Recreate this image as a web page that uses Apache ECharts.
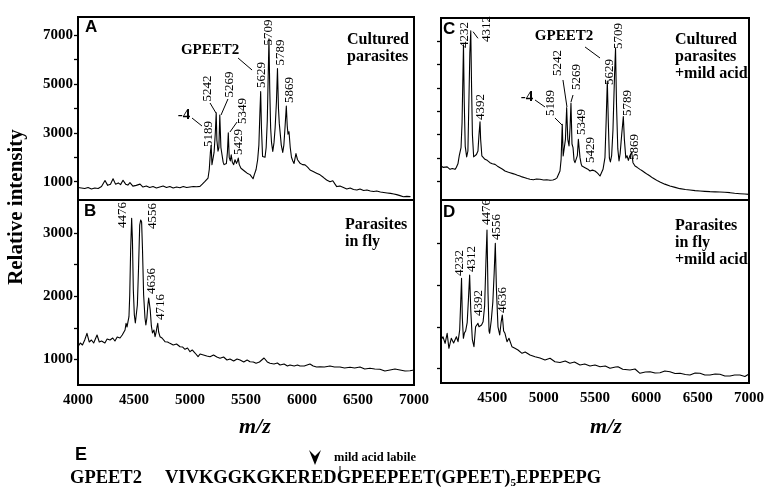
<!DOCTYPE html>
<html><head><meta charset="utf-8">
<script src="https://cdn.jsdelivr.net/npm/echarts@6/dist/echarts.min.js"></script>
<style>html,body{margin:0;padding:0;background:#fff}#c{width:775px;height:493px}</style>
</head><body><div id="c"></div>
<script>
// ---------- Panel A: cultured parasites ----------
const mzA = [4000,4030,4060,4090,4120,4150,4180,4210,4241,4265,4290,4313,4335,4360,4380,4402,4425,4445,4464,4490,4520,4554,4580,4610,4640,4670,4700,4730,4760,4790,4820,4850,4880,4910,4940,4970,5000,5030,5060,5089,5110,5134,5150,5161,5172,5182,5189,5196,5204,5215,5226,5234,5240,5250,5258,5266,5276,5286,5296,5304,5315,5325,5334,5342,5350,5360,5368,5378,5390,5402,5415,5424,5431,5440,5455,5470,5491,5510,5536,5550,5563,5575,5590,5604,5615,5624,5631,5638,5648,5660,5670,5680,5690,5698,5705,5712,5720,5728,5739,5750,5760,5772,5781,5790,5797,5805,5815,5828,5838,5848,5860,5868,5875,5884,5895,5906,5918,5929,5946,5960,5982,6005,6027,6050,6072,6100,6130,6161,6190,6220,6250,6275,6295,6310,6339,6370,6400,6430,6460,6490,6518,6550,6580,6610,6640,6667,6700,6730,6760,6790,6820,6845,6875,6905,6935,6965,7000];
const intA = [760,740,720,760,700,740,720,800,1050,850,900,1120,900,950,880,1060,900,860,960,820,850,900,780,820,760,800,740,780,820,760,800,740,780,750,800,760,780,800,790,810,900,1010,1080,1150,1500,2200,2480,1700,1620,2200,3000,3820,2700,2250,2400,3730,2400,2100,1800,1700,1650,1750,2200,3000,2000,1850,2100,1800,1700,1900,1750,1850,1970,1700,1550,1500,1420,1350,1290,1250,1120,1300,1500,1900,2500,3800,4690,3200,2030,2100,2000,2400,3500,5300,6860,4800,3200,2600,2240,2600,3200,4300,5640,4000,3400,3000,2500,2200,2500,3200,4100,3300,2950,3050,2400,2000,1850,1750,2150,1900,1760,1700,1690,1600,1480,1420,1350,1280,1180,1070,1000,1040,900,800,820,760,700,740,680,660,700,640,660,620,600,620,580,560,540,520,495,470,430,385,400,390];
const labA = ['-4','5189','5242','5269','5349','5429','GPEET2','5629','5709','5789','5869'];
const labAmz = [4946,5170,5156,5357,5473,5438,5179,5643,5705,5813,5893];
const labAint = [3733,2955,4819,4983,3897,2627,6397,5373,7114,6294,4758];
const leadA = [[5018,3610,5107,3283],[5179,4225,5232,3815],[5339,4389,5277,3733],[5420,3446,5357,3037],[5429,6069,5554,5577]];

// ---------- Panel B: parasites in fly ----------
const mzB = [4000,4020,4040,4060,4080,4100,4120,4140,4170,4190,4210,4240,4260,4286,4310,4330,4350,4375,4395,4411,4420,4429,4438,4446,4455,4462,4470,4479,4486,4494,4503,4512,4520,4530,4540,4551,4560,4568,4576,4586,4598,4606,4615,4624,4631,4637,4645,4655,4665,4678,4688,4698,4705,4712,4720,4732,4750,4777,4800,4821,4850,4880,4911,4935,4955,4978,5000,5020,5045,5072,5090,5120,5150,5179,5210,5240,5268,5300,5330,5357,5390,5420,5447,5480,5510,5536,5565,5590,5620,5661,5690,5714,5750,5780,5804,5840,5870,5893,5930,5960,5982,6020,6071,6100,6130,6161,6200,6250,6290,6339,6380,6429,6470,6518,6560,6607,6650,6696,6740,6786,6830,6875,6920,6964,7000];
const intB = [1201,1260,1228,1307,1413,1276,1307,1260,1386,1276,1291,1260,1323,1307,1339,1291,1355,1339,1386,1360,1466,1572,1513,1593,1677,2020,2734,3236,2890,2100,1704,1577,1608,1862,2417,3130,3210,3178,2734,2020,1656,1545,1656,1862,1973,1994,1783,1530,1418,1466,1360,1434,1513,1572,1434,1360,1339,1280,1276,1254,1228,1244,1201,1196,1160,1180,1122,1149,1101,1043,1085,1070,1054,1043,1070,1038,1017,1038,990,1006,974,1006,990,959,990,963,959,938,959,1022,959,938,927,943,911,927,895,911,895,911,895,895,927,895,879,884,879,895,879,879,863,875,863,879,848,859,848,843,816,832,848,832,816,821,832];
const labB = ['4476','4556','4636','4716'];
const labBmz = [4402,4670,4661,4741];
const labBint = [3289,3273,2242,1830];

// ---------- Panel C: cultured parasites + mild acid ----------
const mzC = [4000,4020,4039,4060,4088,4110,4136,4150,4165,4178,4195,4205,4212,4219,4226,4236,4250,4262,4272,4281,4290,4298,4306,4318,4330,4345,4360,4370,4380,4386,4398,4410,4428,4450,4477,4500,4526,4550,4575,4600,4623,4650,4672,4700,4721,4745,4769,4790,4818,4840,4867,4900,4930,4964,5000,5030,5062,5090,5110,5130,5140,5159,5170,5181,5190,5198,5212,5224,5235,5247,5257,5266,5276,5286,5296,5305,5318,5328,5338,5346,5354,5365,5373,5390,5403,5419,5430,5451,5475,5500,5525,5549,5563,5578,5597,5608,5620,5630,5640,5650,5662,5675,5690,5700,5710,5722,5734,5745,5760,5776,5786,5800,5812,5825,5840,5857,5870,5890,5910,5938,5960,5987,6010,6036,6060,6084,6110,6133,6180,6230,6280,6328,6380,6425,6475,6523,6570,6620,6670,6717,6765,6815,6860,6912,6960,7000];
const intC = [1656,1600,1586,1620,1514,1550,1514,1600,1750,2100,2443,3500,5200,6850,4500,2500,2050,2300,4500,6500,7450,5000,3000,2050,2015,2150,2300,3000,3550,2800,2086,2150,1943,1900,1800,1750,1728,1650,1586,1520,1443,1400,1371,1330,1300,1260,1228,1190,1157,1120,1086,1070,1100,1086,1060,1070,1043,1060,1086,1150,1228,1443,1943,3443,2086,2086,2800,4157,2800,2514,3300,4350,2600,2443,1900,1800,1800,2100,2800,2400,2015,1750,1656,1600,1586,1656,1520,1443,1480,1443,1350,1228,1228,1514,2015,3500,5300,3500,2000,1835,2100,3200,5500,6700,4200,2400,1871,2200,3000,3780,2800,2000,2100,1900,2100,2250,1800,1656,1600,1514,1450,1371,1300,1228,1150,1086,1020,970,880,800,740,686,650,628,600,586,570,557,550,543,530,514,490,471,455,443];
const labC = ['4232','4312','4392','-4','5189','5242','5269','5349','5429','GPEET2','5629','5709','5789','5869'];
const labCmz = [4234,4448,4390,4838,5071,5140,5325,5373,5461,5198,5646,5734,5821,5890];
const labCint = [7272,7529,4186,4615,4357,6072,5472,3543,2343,7229,5686,7229,4357,2472];
const leadC = [[4312,7414,4360,7130],[4916,4486,5013,4186],[5110,3715,5179,3415],[5188,5343,5227,4186],[5286,4700,5266,4400],[5403,6758,5549,6286]];

// ---------- Panel D: parasites in fly + mild acid ----------
const mzD = [4000,4019,4040,4060,4077,4100,4123,4150,4166,4182,4192,4200,4208,4218,4228,4240,4255,4268,4279,4290,4305,4321,4337,4360,4370,4395,4410,4425,4438,4448,4458,4468,4474,4490,4505,4518,4529,4540,4555,4572,4585,4597,4610,4623,4643,4662,4691,4720,4750,4789,4820,4867,4916,4964,5013,5062,5110,5159,5210,5256,5300,5354,5400,5451,5500,5549,5600,5646,5700,5724,5770,5841,5890,5938,5990,6036,6085,6133,6180,6230,6280,6328,6380,6425,6475,6523,6570,6620,6670,6717,6765,6815,6860,6912,6960,7000];
const intD = [1684,1763,1604,1845,1484,1725,1612,1763,1643,1924,2600,3167,2200,1725,1850,1900,2100,2700,3246,2400,1700,1523,2003,2085,2003,2044,2124,2500,3600,4328,2800,1900,1845,2165,2600,3300,4008,2900,2000,1804,2100,2285,1900,1845,1643,1725,1523,1484,1443,1364,1395,1323,1282,1251,1203,1244,1162,1143,1179,1124,1155,1083,1107,1059,1083,1042,1059,1003,1035,1042,979,963,987,883,914,922,890,898,938,922,878,883,854,842,890,883,842,842,866,859,818,818,842,842,806,866];
const labD = ['4232','4312','4392','4476','4556','4636'];
const labDmz = [4185,4302,4370,4448,4545,4604];
const labDint = [3535,3631,2573,4761,4400,2645];

// ---------- axis ticks ----------
const yTicksA = [1000,2000,3000,4000,5000,6000,7000];
const yLabelsA = [1000,3000,5000,7000];
const yTicksB = [1000,1500,2000,2500,3000];
const yLabelsB = [1000,2000,3000];
const yTicksC = [1000,2000,3000,4000,5000,6000,7000];
const yTicksD = [1000,2000,3000,4000];
const yRange = [[250,7750],[594,3526],[200,8000],[650,5050]];

const SERIF = 'Liberation Serif';
const plain = v => String(Math.round(v));
const pairs = (m, v) => m.map((x, i) => [x, v[i]]);
const marks = (t, m, v) => t.map((s, i) => {
  const horiz = (s === '-4' || s === 'GPEET2');
  return { name: s, coord: [m[i], v[i]],
    label: horiz ? { rotate: 0, fontWeight: 'bold', fontSize: 15 } : {} };
});
const leads = (arr) => arr.map(a => [{ coord: [a[0], a[1]] }, { coord: [a[2], a[3]] }]);

const grids = [
  { left: 78, top: 17, width: 336, height: 183 },
  { left: 78, top: 200, width: 336, height: 185 },
  { left: 441, top: 18, width: 308, height: 182 },
  { left: 441, top: 200, width: 308, height: 183 }
].map(g => Object.assign(g, { show: true, borderColor: '#000', borderWidth: 2, backgroundColor: 'transparent', outerBoundsMode: 'none', containLabel: false }));

const xAxes = [0,1,2,3].map(i => ({
  type: 'value', gridIndex: i, min: 4000, max: 7000, interval: 500,
  axisLine: { show: false }, axisTick: { show: false }, splitLine: { show: false },
  axisLabel: { show: i === 1 || i === 3, showMinLabel: i === 1, color: '#000',
    fontFamily: SERIF, fontWeight: 'bold', fontSize: 15, margin: 8, formatter: plain }
}));

const yTickSets = [yTicksA, yTicksB, yTicksC, yTicksD];
const yLabelSets = [yLabelsA, yLabelsB, [], []];
const yAxes = [0,1,2,3].map(i => ({
  type: 'value', gridIndex: i, min: yRange[i][0], max: yRange[i][1],
  axisLine: { show: false }, splitLine: { show: false },
  axisTick: { show: true, inside: false, length: 4, customValues: yTickSets[i],
    lineStyle: { color: '#000', width: 1.3 } },
  axisLabel: { show: i < 2, customValues: yLabelSets[i], color: '#000',
    fontFamily: SERIF, fontWeight: 'bold', fontSize: 15, margin: 5, formatter: plain }
}));

const spectra = [pairs(mzA,intA), pairs(mzB,intB), pairs(mzC,intC), pairs(mzD,intD)];
const markSets = [marks(labA,labAmz,labAint), marks(labB,labBmz,labBint), marks(labC,labCmz,labCint), marks(labD,labDmz,labDint)];
const leadSets = [leads(leadA), [], leads(leadC), []];

const series = [0,1,2,3].map(i => ({
  type: 'line', xAxisIndex: i, yAxisIndex: i, data: spectra[i],
  showSymbol: false, symbol: 'none', smooth: false,
  lineStyle: { color: '#000', width: 1.1, join: 'round', cap: 'round' }, silent: true, animation: false,
  markPoint: { symbol: 'circle', symbolSize: 0, silent: true, animation: false,
    itemStyle: { color: 'transparent' },
    label: { show: true, position: 'inside', rotate: 90, color: '#000',
      fontFamily: SERIF, fontSize: 13, formatter: p => p.name },
    data: markSets[i] },
  markLine: { symbol: ['none','none'], silent: true, animation: false,
    lineStyle: { color: '#000', width: 1, type: 'solid' }, label: { show: false },
    data: leadSets[i] }
}));

const T = (x, y, text, font, extra) => Object.assign({ type: 'text', x: x, y: y,
  style: Object.assign({ text: text, font: font, fill: '#000' }, extra || {}) });
const sansL = 'bold 17px "Liberation Sans"';
const serifB16 = 'bold 16px "Liberation Serif"';

const graphic = [
  T(85, 19, 'A', sansL), T(84, 203, 'B', sansL), T(443, 21, 'C', sansL), T(443, 204, 'D', sansL),
  T(347, 31, 'Cultured\nparasites', serifB16, { lineHeight: 17 }),
  T(345, 216, 'Parasites\nin fly', serifB16, { lineHeight: 17 }),
  T(675, 31, 'Cultured\nparasites\n+mild acid', serifB16, { lineHeight: 17 }),
  T(675, 217, 'Parasites\nin fly\n+mild acid', serifB16, { lineHeight: 17 }),
  { type: 'text', x: 17, y: 207, rotation: Math.PI / 2,
    style: { text: 'Relative intensity', font: 'bold 21px "Liberation Serif"', fill: '#000', align: 'center', verticalAlign: 'middle' } },
  T(255, 427, 'm/z', 'italic bold 22px "Liberation Serif"', { align: 'center', verticalAlign: 'middle' }),
  T(606, 427, 'm/z', 'italic bold 22px "Liberation Serif"', { align: 'center', verticalAlign: 'middle' }),
  T(75, 446, 'E', 'bold 18px "Liberation Sans"'),
  T(70, 478, 'GPEET2', 'bold 18.5px "Liberation Serif"', { verticalAlign: 'middle' }),
  { type: 'text', x: 165, y: 478, style: {
      text: 'VIVKGGKGKEREDGPEEPEET(GPEET){s|5}EPEPEPG', font: 'bold 18.5px "Liberation Serif"', fill: '#000', verticalAlign: 'middle',
      rich: { s: { font: 'bold 11px "Liberation Serif"', fill: '#000', padding: [10, 0, 0, 0] } } } },
  T(334, 451, 'mild acid labile', 'bold 12.5px "Liberation Serif"'),
  { type: 'line', shape: { x1: 340, y1: 466, x2: 340, y2: 477 }, style: { stroke: '#000', lineWidth: 1 } },
  { type: 'polygon', shape: { points: [[309, 450], [315, 456], [321, 450], [315, 465]] }, style: { fill: '#000' } }
];

const chart = echarts.init(document.getElementById('c'));
chart.setOption({
  animation: false, backgroundColor: '#fff',
  grid: grids, xAxis: xAxes, yAxis: yAxes, series: series, graphic: graphic
});
</script></body></html>
